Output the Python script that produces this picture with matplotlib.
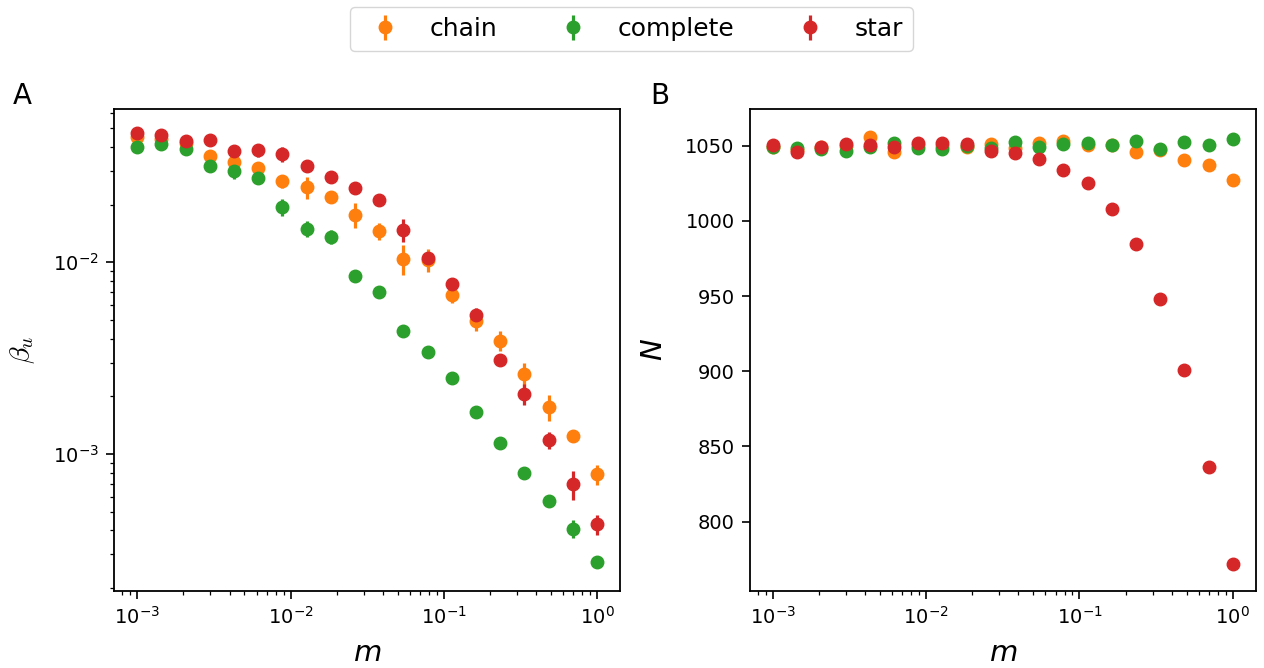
import matplotlib
matplotlib.use('Agg')
import matplotlib.pyplot as plt
import numpy as np

# migration rates
m = [0.001, 0.001438, 0.002069, 0.002976, 0.004281, 0.006158, 0.008859,
     0.01274, 0.01833, 0.02637, 0.03793, 0.05456, 0.07848, 0.1129,
     0.1624, 0.2336, 0.3360, 0.4833, 0.6952, 1.0]

labels = ['chain', 'complete', 'star']
colors = ['tab:orange', 'tab:green', 'tab:red']

# beta_u (mean and error)
beta_chain = [0.0452, 0.0440, 0.0421, 0.0359, 0.0334, 0.0310, 0.0266, 0.0246,
              0.0219, 0.0177, 0.0146, 0.01044, 0.01028, 0.00673, 0.00492,
              0.00390, 0.00261, 0.00176, 0.00124, 0.000784]
err_chain = [0.0012, 0.0010, 0.0010, 0.0015, 0.0020, 0.0015, 0.0021, 0.0033,
             0.0008, 0.0026, 0.0015, 0.0019, 0.0014, 0.0006, 0.00055,
             0.00047, 0.00037, 0.00028, 0.00005, 0.000094]

beta_complete = [0.0398, 0.0413, 0.0390, 0.0317, 0.0298, 0.0277, 0.0195, 0.0150,
                 0.0136, 0.00848, 0.00700, 0.00438, 0.00340, 0.00249, 0.00166,
                 0.00114, 0.000796, 0.000566, 0.000408, 0.000272]
err_complete = [0.0012, 0.0010, 0.0012, 0.0010, 0.0025, 0.0012, 0.0020, 0.0015,
                0.0012, 0.0006, 0.0002, 0.0002, 0.0002, 0.00008, 0.00006,
                0.00005, 0.00003, 0.00002, 0.000044, 0.00001]

beta_star = [0.0471, 0.0463, 0.0428, 0.0433, 0.0379, 0.0385, 0.0367, 0.0320,
             0.0279, 0.0245, 0.0211, 0.0148, 0.0105, 0.00773, 0.00529,
             0.00309, 0.00206, 0.00118, 0.000697, 0.000430]
err_star = [0.0010, 0.0010, 0.0012, 0.0010, 0.0020, 0.0029, 0.0034, 0.0010,
            0.0012, 0.0008, 0.0006, 0.0021, 0.0007, 0.0003, 0.00046,
            0.00010, 0.00026, 0.00012, 0.00012, 0.000051]

# population size N
N_chain = [1049.0, 1047.0, 1049.0, 1050.0, 1056.0, 1046.0, 1050.5, 1050.0,
           1049.0, 1051.0, 1048.3, 1051.6, 1052.9, 1050.3, 1050.3, 1046.0,
           1047.1, 1040.5, 1037.4, 1027.2]
N_complete = [1049.0, 1048.7, 1048.0, 1046.5, 1049.3, 1051.6, 1048.3, 1047.7,
              1050.0, 1048.3, 1052.5, 1049.1, 1051.3, 1052.0, 1050.7, 1053.3,
              1048.0, 1052.5, 1050.7, 1054.7]
N_star = [1050.3, 1046.0, 1049.3, 1051.3, 1050.7, 1049.3, 1051.8, 1051.7,
          1051.0, 1046.3, 1045.4, 1041.4, 1033.8, 1025.0, 1007.9, 984.6,
          948.0, 901.0, 836.4, 771.7]

beta = [beta_chain, beta_complete, beta_star]
errs = [err_chain, err_complete, err_star]
Ns = [N_chain, N_complete, N_star]

plt.rcParams['font.size'] = 14
plt.rcParams['axes.linewidth'] = 1.3
for ax_name in ['xtick', 'ytick']:
    plt.rcParams[ax_name + '.major.size'] = 5.5
    plt.rcParams[ax_name + '.minor.size'] = 3
    plt.rcParams[ax_name + '.major.width'] = 1.2
    plt.rcParams[ax_name + '.minor.width'] = 0.9
    plt.rcParams[ax_name + '.major.pad'] = 5.5
    plt.rcParams[ax_name + '.minor.pad'] = 5.5

fig = plt.figure(figsize=(12.64, 6.68), dpi=100)
W, H = 1264, 668
axA = fig.add_axes([114.3 / W, 1 - 590.7 / H, 505.7 / W, 481.7 / H])
axB = fig.add_axes([750 / W, 1 - 590.7 / H, 505.7 / W, 481.7 / H])

for lab, c, b, e in zip(labels, colors, beta, errs):
    axA.errorbar(m, b, yerr=e, fmt='o', color=c, ms=9, elinewidth=2.3,
                 label=lab)
axA.set_xscale('log')
axA.set_yscale('log')
axA.set_ylim(1.936e-4, 0.0631)
axA.set_xlabel(r'$m$', fontsize=21, labelpad=8)
axA.set_ylabel(r'$\beta_u$', fontsize=20, math_fontfamily='cm')
axA.yaxis.set_label_coords(-0.152, 0.5)

for lab, c, n in zip(labels, colors, Ns):
    axB.errorbar(m, n, fmt='o', color=c, ms=9, label=lab)
axB.set_xscale('log')
axB.set_ylim(754.1, 1074.4)
axB.set_yticks([800, 850, 900, 950, 1000, 1050])
axB.set_xlabel(r'$m$', fontsize=21, labelpad=8)
axB.set_ylabel(r'$N$', fontsize=21)
axB.yaxis.set_label_coords(-0.163, 0.5)

fig.text(13 / W, 1 - 103.5 / H, 'A', fontsize=20, ha='left', va='baseline')
fig.text(650 / W, 1 - 103.5 / H, 'B', fontsize=20, ha='left', va='baseline')

handles, labs = axA.get_legend_handles_labels()
fig.legend(handles, labs, loc='center', ncol=3, fontsize=18,
           bbox_to_anchor=(631.5 / W, 1 - 29 / H))

fig.savefig('out.png', dpi=100)
